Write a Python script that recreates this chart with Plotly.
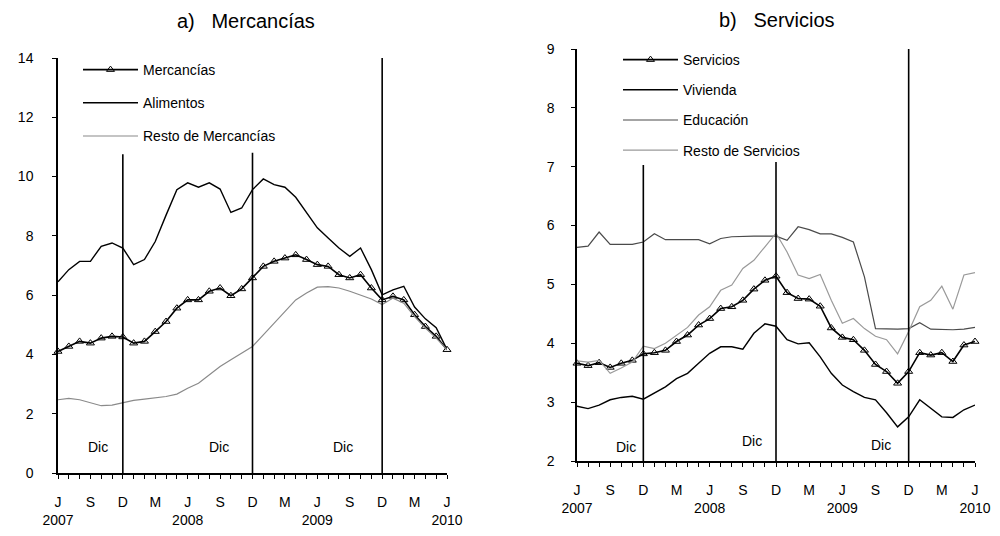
import plotly.graph_objects as go

# month index 0 = Jun 2007 ... 36 = Jun 2010
months = list(range(37))
month_letters = ["J", "J", "A", "S", "O", "N", "D", "E", "F", "M", "A", "M"]
years = {0: "2007", 12: "2008", 24: "2009", 36: "2010"}

# Panel a) Mercancías
mercancias = [4.10, 4.27, 4.44, 4.38, 4.55, 4.61, 4.59,
              4.38, 4.44, 4.77, 5.11, 5.56, 5.84, 5.84, 6.13, 6.24, 5.98, 6.21, 6.58,
              6.97, 7.14, 7.25, 7.36, 7.20, 7.03, 6.97, 6.69, 6.58, 6.69, 6.24, 5.84,
              5.96, 5.84, 5.34, 4.94, 4.61, 4.16]
alimentos = [6.45, 6.86, 7.14, 7.14, 7.65, 7.76, 7.59,
             7.03, 7.20, 7.81, 8.70, 9.56, 9.79, 9.64, 9.79, 9.58, 8.79, 8.94, 9.56,
             9.92, 9.73, 9.64, 9.30, 8.77, 8.27, 7.93, 7.59, 7.31, 7.59, 6.86, 6.01,
             6.18, 6.30, 5.60, 5.20, 4.90, 4.16]
resto_merc = [2.47, 2.52, 2.47, 2.38, 2.27, 2.29, 2.38,
              2.45, 2.49, 2.54, 2.58, 2.66, 2.86, 3.03, 3.31, 3.59, 3.82, 4.04, 4.27,
              4.66, 5.06, 5.45, 5.84, 6.07, 6.27, 6.29, 6.24, 6.13, 6.01, 5.87, 5.68,
              5.90, 5.73, 5.28, 4.89, 4.55, 4.16]

# Panel b) Servicios
servicios = [3.66, 3.62, 3.67, 3.59, 3.66, 3.71, 3.82,
             3.84, 3.88, 4.03, 4.14, 4.31, 4.42, 4.59, 4.62, 4.73, 4.92, 5.07, 5.14,
             4.86, 4.76, 4.75, 4.63, 4.26, 4.10, 4.06, 3.88, 3.64, 3.52, 3.32, 3.52,
             3.84, 3.80, 3.84, 3.69, 3.97, 4.03]
vivienda = [2.93, 2.89, 2.95, 3.04, 3.08, 3.10, 3.05,
            3.15, 3.26, 3.40, 3.49, 3.66, 3.83, 3.94, 3.94, 3.90, 4.17, 4.33, 4.29,
            4.06, 3.99, 4.01, 3.77, 3.49, 3.29, 3.18, 3.08, 3.04, 2.82, 2.58, 2.75,
            3.04, 2.89, 2.75, 2.74, 2.87, 2.95]
educacion = [5.63, 5.65, 5.89, 5.68, 5.68, 5.68, 5.72,
             5.86, 5.76, 5.76, 5.76, 5.76, 5.69, 5.78, 5.81, 5.82, 5.82, 5.82, 5.82,
             5.75, 5.98, 5.93, 5.86, 5.86, 5.80, 5.72, 5.13, 4.25, 4.24, 4.24, 4.25,
             4.35, 4.24, 4.23, 4.23, 4.24, 4.27]
resto_serv = [3.70, 3.68, 3.71, 3.49, 3.58, 3.68, 3.95,
              3.91, 4.00, 4.14, 4.27, 4.48, 4.62, 4.90, 4.99, 5.27, 5.41, 5.64, 5.87,
              5.55, 5.16, 5.10, 5.17, 4.73, 4.34, 4.42, 4.25, 4.12, 4.06, 3.82, 4.20,
              4.62, 4.73, 4.97, 4.58, 5.16, 5.20]

dic_months = [6, 18, 30]

FONT = "Liberation Sans, Arial, sans-serif"

# figure is drawn inside the page's default 8px body margin
W, H, OFF = 984, 520, 8


def fx(p):
    return (p - OFF) / W


def fy(p):
    return 1 - (p - OFF) / H


ticktext = []
for i in months:
    if i % 3 == 0:
        lab = month_letters[i % 12]
        if i in years:
            lab += "<br>" + years[i]
        ticktext.append(lab)
    else:
        ticktext.append("")

fig = go.Figure()


def add_line(x, y, name, color, width, xa, ya, legend, marker=False):
    fig.add_trace(go.Scatter(
        x=x, y=y, name=name, mode="lines+markers" if marker else "lines",
        line=dict(color=color, width=width),
        marker=dict(symbol="triangle-up-open", size=7, color="black",
                    line=dict(width=1, color="black")) if marker else None,
        xaxis=xa, yaxis=ya, legend=legend, legendgroup=name, cliponaxis=False,
    ))


add_line(months, mercancias, "Mercancías", "black", 1.6, "x", "y", "legend", marker=True)
add_line(months, alimentos, "Alimentos", "black", 1.4, "x", "y", "legend")
add_line(months, resto_merc, "Resto de Mercancías", "#8a8a8a", 1.2, "x", "y", "legend")

add_line(months, servicios, "Servicios", "black", 1.6, "x2", "y2", "legend2", marker=True)
add_line(months, vivienda, "Vivienda", "black", 1.4, "x2", "y2", "legend2")
add_line(months, educacion, "Educación", "#4a4a4a", 1.2, "x2", "y2", "legend2")
add_line(months, resto_serv, "Resto de Servicios", "#9a9a9a", 1.2, "x2", "y2", "legend2")

# Dec vertical lines
left_tops = [10.75, 10.8, 14.2]
right_tops = [7.03, 7.08, 9.15]
for m, t in zip(dic_months, left_tops):
    fig.add_shape(type="line", xref="x", yref="y", x0=m, x1=m, y0=0, y1=t,
                  line=dict(color="black", width=1.6))
for m, t in zip(dic_months, right_tops):
    fig.add_shape(type="line", xref="x2", yref="y2", x0=m, x1=m, y0=2, y1=t,
                  line=dict(color="black", width=1.6))

# "Dic" labels
for xm, yv in zip([3.7, 14.9, 26.4], [0.88, 0.88, 0.88]):
    fig.add_annotation(x=xm, y=yv, xref="x", yref="y", text="Dic", showarrow=False,
                       font=dict(size=14, family=FONT, color="black"))
for xm, yv in zip([4.4, 15.8, 27.5], [2.24, 2.34, 2.27]):
    fig.add_annotation(x=xm, y=yv, xref="x2", yref="y2", text="Dic", showarrow=False,
                       font=dict(size=14, family=FONT, color="black"))

# Titles
fig.add_annotation(x=fx(246), y=fy(21), xref="paper", yref="paper",
                   xanchor="center", yanchor="middle",
                   text="a)\u00a0\u00a0\u00a0Mercancías", showarrow=False,
                   font=dict(size=20, family=FONT, color="black"))
fig.add_annotation(x=fx(777), y=fy(20), xref="paper", yref="paper",
                   xanchor="center", yanchor="middle",
                   text="b)\u00a0\u00a0\u00a0Servicios", showarrow=False,
                   font=dict(size=20, family=FONT, color="black"))

xcommon = dict(range=[0, 36], tickvals=months, ticktext=ticktext, showline=True,
               linecolor="black", linewidth=1.5, ticks="outside", ticklen=4,
               tickwidth=1, tickcolor="black", showgrid=False, zeroline=False,
               tickangle=0, ticklabelstandoff=11, automargin=False,
               tickfont=dict(size=14, family=FONT, color="black"))
ycommon = dict(showline=True, linecolor="black", linewidth=1.5, ticks="outside",
               ticklen=4, tickwidth=1, tickcolor="black", showgrid=False,
               zeroline=False, automargin=False,
               tickfont=dict(size=14, family=FONT, color="black"))

fig.update_layout(
    width=W, height=H,
    margin=dict(l=0, r=0, t=0, b=0, autoexpand=False),
    paper_bgcolor="white", plot_bgcolor="white",
    showlegend=True,
    xaxis=dict(domain=[fx(58), fx(447)], anchor="y", **xcommon),
    yaxis=dict(domain=[fy(473), fy(58)], range=[0, 14], tickvals=list(range(0, 15, 2)),
               anchor="x", ticklabelstandoff=16, **ycommon),
    xaxis2=dict(domain=[fx(577), fx(975)], anchor="y2", **xcommon),
    yaxis2=dict(domain=[fy(461), fy(49)], range=[2, 9], tickvals=list(range(2, 10)),
                anchor="x2", ticklabelstandoff=14, **ycommon),
    legend=dict(x=fx(78), y=fy(54), xanchor="left", yanchor="top",
                bgcolor="rgba(0,0,0,0)", itemwidth=55, tracegroupgap=12,
                font=dict(size=14, family=FONT, color="black")),
    legend2=dict(x=fx(618), y=fy(44), xanchor="left", yanchor="top",
                 bgcolor="rgba(0,0,0,0)", itemwidth=55, tracegroupgap=9,
                 font=dict(size=14, family=FONT, color="black")),
    font=dict(family=FONT, color="black"),
)

fig.write_html("out.html")
